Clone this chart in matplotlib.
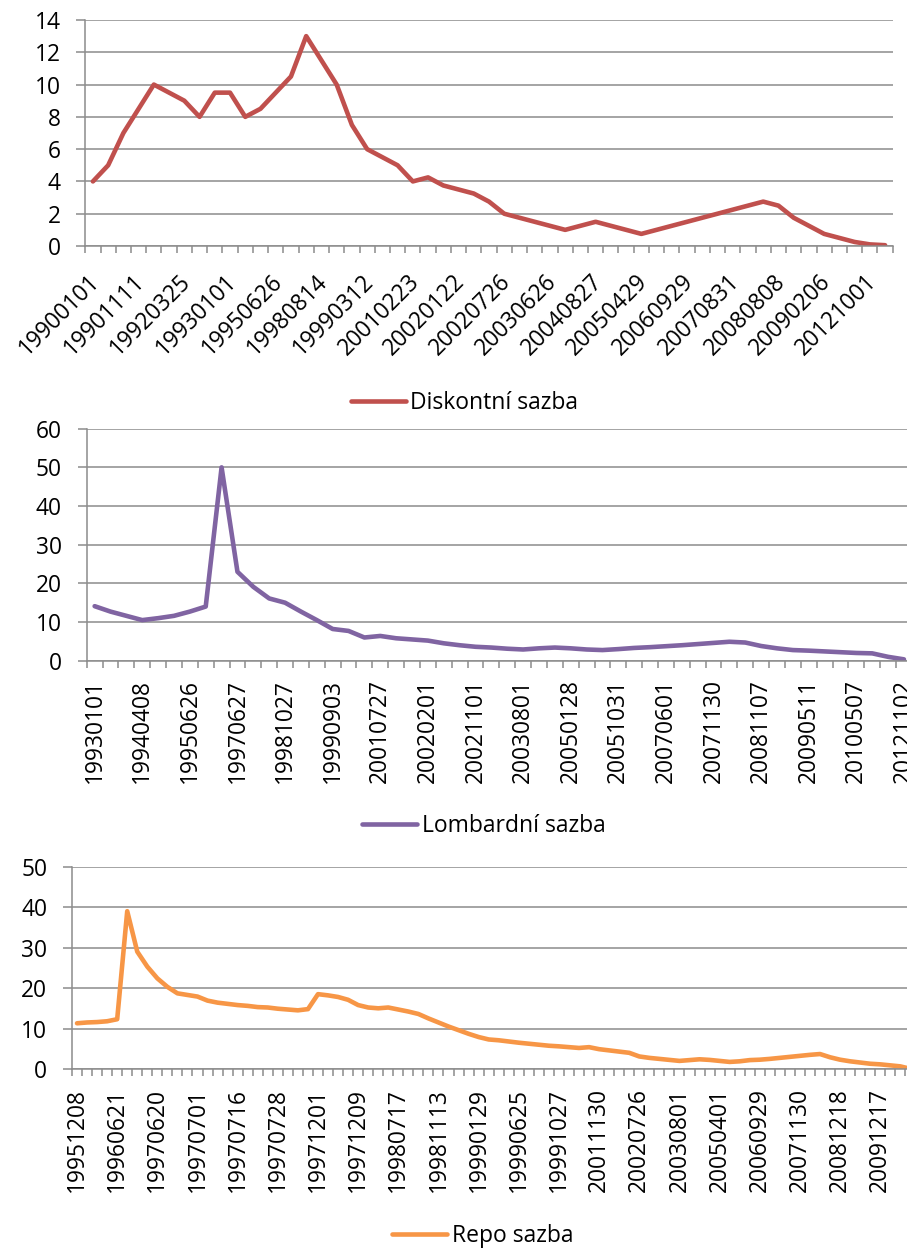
import numpy as np
import matplotlib
matplotlib.use("Agg")
import matplotlib.pyplot as plt
from matplotlib.transforms import ScaledTranslation

plt.rcParams['font.family'] = ['Open Sans', 'DejaVu Sans']

# Diskontni sazba (53 points, label every 3rd category)
disc_values = [4, 5, 7, 8.5, 10, 9.5, 9, 8, 9.5, 9.5, 8, 8.5, 9.5, 10.5, 13, 11.5, 10, 7.5,
               6, 5.5, 5, 4, 4.25, 3.75, 3.5, 3.25, 2.75, 2.0, 1.75, 1.5, 1.25, 1.0, 1.25,
               1.5, 1.25, 1.0, 0.75, 1.0, 1.25, 1.5, 1.75, 2.0, 2.25, 2.5, 2.75, 2.5, 1.75,
               1.25, 0.75, 0.5, 0.25, 0.1, 0.05]
disc_labels = ["19900101", "19901111", "19920325", "19930101", "19950626", "19980814",
               "19990312", "20010223", "20020122", "20020726", "20030626", "20040827",
               "20050429", "20060929", "20070831", "20080808", "20090206", "20121001"]

# Lombardni sazba (52 points, label every 3rd category)
lomb_values = [14.1, 12.7, 11.6, 10.5, 11.0, 11.6, 12.7, 14, 50, 23, 19.1, 16.1, 15, 12.7,
               10.5, 8.2, 7.7, 6.0, 6.4, 5.8, 5.5, 5.2, 4.5, 4.0, 3.6, 3.4, 3.1, 2.9, 3.2,
               3.4, 3.2, 2.9, 2.75, 3.0, 3.3, 3.5, 3.75, 4.0, 4.3, 4.6, 4.9, 4.7, 3.8, 3.2,
               2.75, 2.6, 2.4, 2.2, 2.0, 1.9, 1.0, 0.35]
lomb_labels = ["19930101", "19940408", "19950626", "19970627", "19981027", "19990903",
               "20010727", "20020201", "20021101", "20030801", "20050128", "20051031",
               "20070601", "20071130", "20081107", "20090511", "20100507", "20121102"]

# Repo sazba (84 points, label every 4th category)
repo_values = [11.3, 11.5, 11.6, 11.8, 12.3, 39.0, 29, 25.3, 22.4, 20.3, 18.7, 18.3, 17.9,
               16.9, 16.4, 16.1, 15.8, 15.6, 15.3, 15.2, 14.9, 14.7, 14.5, 14.8, 18.5, 18.2,
               17.8, 17.1, 15.8, 15.2, 15.0, 15.2, 14.7, 14.2, 13.6, 12.5, 11.5, 10.5, 9.6,
               8.7, 7.9, 7.3, 7.1, 6.8, 6.5, 6.25, 6.0, 5.75, 5.6, 5.4, 5.2, 5.4, 4.9, 4.6,
               4.3, 4.0, 3.1, 2.75, 2.5, 2.25, 2.0, 2.2, 2.4, 2.25, 2.0, 1.75, 1.9, 2.2, 2.3,
               2.5, 2.75, 3.0, 3.25, 3.5, 3.7, 2.9, 2.3, 1.9, 1.6, 1.3, 1.15, 0.9, 0.65, 0.05]
repo_labels = ["19951208", "19960621", "19970620", "19970701", "19970716", "19970728",
               "19971201", "19971209", "19980717", "19981113", "19990129", "19990625",
               "19991027", "20011130", "20020726", "20030801", "20050401", "20060929",
               "20071130", "20081218", "20091217"]

W, H = 907, 1248
GRAY = "#8c8c8c"
TICK_FS = 16.2
LEG_FS = 16.5
LABEL_LEN_PX = 104  # length of an 8-digit date label in the reference

fig = plt.figure(figsize=(W / 100, H / 100), dpi=100)


def px_axes(left, right, top, bottom):
    return fig.add_axes([left / W, 1 - bottom / H, (right - left) / W, (bottom - top) / H])


def style_chart(ax, values, labels, step, ymax, ystep, color, name, rot, leg_xy):
    n = len(values)
    x = np.arange(n)
    ax.plot(x, values, color=color, lw=3.3, solid_joinstyle="round",
            solid_capstyle="round", label=name)
    ax.set_xlim(-0.5, n - 0.5)
    ax.set_ylim(0, ymax)
    ax.set_yticks(np.arange(0, ymax + 0.1, ystep))
    ax.yaxis.grid(True, color=GRAY, lw=1.1)
    ax.set_axisbelow(True)
    for s in ["top", "right"]:
        ax.spines[s].set_visible(False)
    for s in ["left", "bottom"]:
        ax.spines[s].set_color(GRAY)
        ax.spines[s].set_linewidth(1.1)
    ax.tick_params(axis="y", length=6.3, width=1.1, color=GRAY, pad=11.5)
    # tick marks on category boundaries, labels on category centres
    ax.set_xticks(np.arange(-0.5, n, 1), minor=True)
    ax.set_xticks(np.arange(0, n, step))
    ax.tick_params(axis="x", which="minor", length=5.2, width=1.1, color=GRAY)
    if rot == 45:
        ax.set_xticklabels(labels[:len(ax.get_xticks())], rotation=45, ha="right",
                           va="center", rotation_mode="anchor")
        ax.tick_params(axis="x", which="major", length=0, pad=23.5)
        shift = ScaledTranslation(3 / 100, 0, fig.dpi_scale_trans)
        for t in ax.get_xticklabels():
            t.set_transform(t.get_transform() + shift)
    else:
        ax.set_xticklabels(labels[:len(ax.get_xticks())], rotation=90)
        ax.tick_params(axis="x", which="major", length=0, pad=13.5)
    fig.legend(handles=ax.get_lines(), loc="center",
               bbox_to_anchor=(leg_xy[0] / W, 1 - leg_xy[1] / H), frameon=False,
               fontsize=LEG_FS, handlelength=2.4, handletextpad=0.2)


ax1 = px_axes(85.3, 892.7, 20, 246)
style_chart(ax1, disc_values, disc_labels, 3, 14, 2, "#C0504D", "Diskontní sazba", 45,
            (464.5, 403))

ax2 = px_axes(86.7, 911.9, 428.7, 660.7)
style_chart(ax2, lomb_values, lomb_labels, 3, 60, 10, "#8064A2", "Lombardní sazba", 90,
            (484, 826))

ax3 = px_axes(72, 915.4, 866.7, 1069)
style_chart(ax3, repo_values, repo_labels, 4, 50, 10, "#F79646", "Repo sazba", 90,
            (483, 1236))

# size tick labels so a date label is as long as in the reference
axes = [ax1, ax2, ax3]
for ax in axes:
    ax.tick_params(axis="both", which="major", labelsize=TICK_FS)
fig.canvas.draw()
r = fig.canvas.get_renderer()
lab_len = ax2.get_xticklabels()[0].get_window_extent(r).height
fs = TICK_FS * LABEL_LEN_PX / lab_len
for ax in axes:
    ax.tick_params(axis="both", which="major", labelsize=fs)

fig.savefig("out.png", dpi=100)
